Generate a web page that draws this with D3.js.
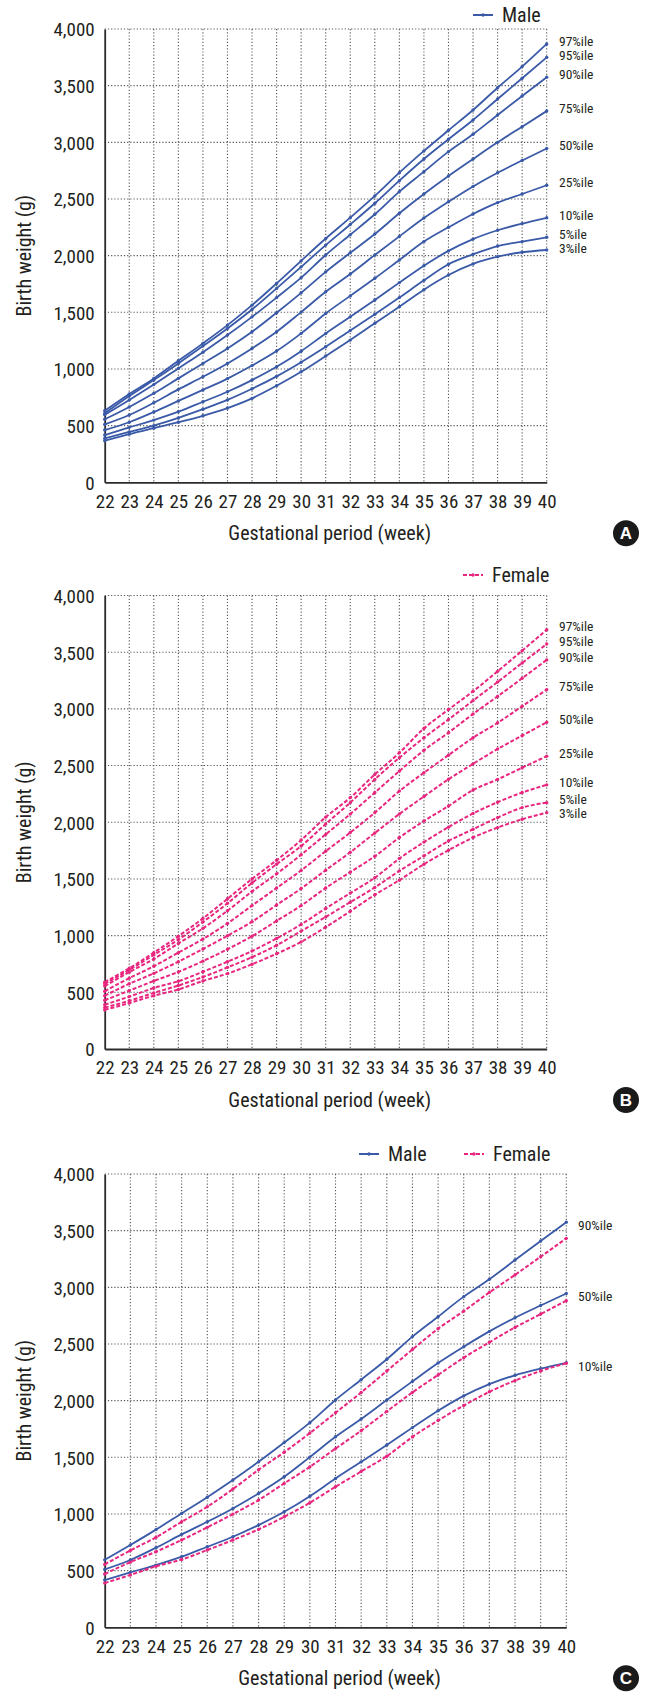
<!DOCTYPE html>
<html>
<head>
<meta charset="utf-8">
<script src="https://cdn.jsdelivr.net/npm/d3@7"></script>
<style>
  body { margin: 0; background: #fff; }
  svg text { font-family: "Liberation Sans Narrow", "Roboto Condensed", "DejaVu Sans Condensed", sans-serif; fill: #231f20; }
</style>
</head>
<body>
<div id="container"></div>
<script>
/* DATA */
const weeks = d3.range(22, 41);
const percentiles = ["97%ile", "95%ile", "90%ile", "75%ile", "50%ile", "25%ile", "10%ile", "5%ile", "3%ile"];
const yTicks = [0, 500, 1000, 1500, 2000, 2500, 3000, 3500, 4000];

// male birth weight (g), weeks 22..40
const male97 = [631, 779, 917, 1072, 1226, 1387, 1563, 1755, 1954, 2151, 2335, 2527, 2732, 2924, 3106, 3285, 3482, 3668, 3868];
const male95 = [608, 761, 902, 1049, 1202, 1358, 1525, 1711, 1901, 2093, 2275, 2462, 2662, 2853, 3027, 3197, 3382, 3565, 3750];
const male90 = [595, 726, 862, 1005, 1148, 1299, 1460, 1630, 1806, 2006, 2185, 2365, 2565, 2741, 2918, 3071, 3241, 3409, 3575];
const male75 = [556, 665, 785, 917, 1049, 1181, 1328, 1496, 1672, 1857, 2025, 2191, 2374, 2544, 2703, 2853, 3000, 3138, 3276];
const male50 = [511, 594, 702, 820, 931, 1049, 1181, 1328, 1502, 1681, 1838, 2005, 2170, 2332, 2476, 2611, 2732, 2840, 2946];
const male25 = [461, 530, 620, 718, 815, 915, 1030, 1158, 1314, 1490, 1645, 1800, 1962, 2124, 2250, 2368, 2468, 2544, 2621];
const male10 = [417, 485, 549, 623, 711, 799, 902, 1019, 1157, 1313, 1460, 1609, 1762, 1911, 2042, 2146, 2224, 2283, 2334];
const male5  = [388, 444, 500, 568, 645, 727, 825, 935, 1060, 1196, 1340, 1483, 1630, 1782, 1924, 2012, 2085, 2124, 2162];
const male3  = [367, 425, 478, 530, 587, 655, 741, 852, 975, 1114, 1255, 1403, 1550, 1700, 1829, 1927, 1991, 2030, 2050];

// female birth weight (g), weeks 22..40
const female97 = [590, 712, 850, 995, 1152, 1325, 1500, 1665, 1843, 2045, 2217, 2422, 2613, 2827, 2994, 3155, 3331, 3513, 3698];
const female95 = [575, 698, 830, 965, 1120, 1285, 1465, 1630, 1790, 1985, 2173, 2378, 2569, 2745, 2906, 3073, 3237, 3405, 3572];
const female90 = [555, 678, 794, 931, 1064, 1220, 1390, 1545, 1714, 1893, 2072, 2262, 2451, 2635, 2790, 2955, 3110, 3270, 3432];
const female75 = [510, 625, 730, 850, 970, 1108, 1265, 1420, 1575, 1745, 1909, 2085, 2275, 2437, 2592, 2745, 2877, 3023, 3170];
const female50 = [470, 575, 667, 770, 882, 999, 1123, 1270, 1416, 1577, 1735, 1905, 2073, 2227, 2379, 2515, 2646, 2764, 2882];
const female25 = [430, 515, 600, 680, 775, 880, 995, 1130, 1265, 1420, 1560, 1700, 1865, 2011, 2143, 2284, 2378, 2481, 2583];
const female10 = [390, 462, 538, 598, 682, 770, 864, 975, 1099, 1240, 1375, 1510, 1680, 1825, 1957, 2078, 2177, 2262, 2330];
const female5  = [365, 425, 495, 560, 635, 720, 810, 915, 1040, 1165, 1295, 1425, 1571, 1703, 1835, 1938, 2041, 2129, 2173];
const female3  = [345, 405, 470, 525, 600, 665, 748, 840, 945, 1075, 1215, 1360, 1489, 1630, 1753, 1865, 1953, 2026, 2085];

const maleSeries = [male97, male95, male90, male75, male50, male25, male10, male5, male3];
const femaleSeries = [female97, female95, female90, female75, female50, female25, female10, female5, female3];

/* STYLE */
const width = 646, height = 1692;
const BLUE = "#3a5aa8", PINK = "#e8267f";

const svg = d3.select("#container").append("svg")
  .attr("width", width)
  .attr("height", height);

function drawPanel(cfg) {
  const g = svg.append("g");
  const x = d3.scaleLinear().domain([22, 40]).range([cfg.left, cfg.right]);
  const y = d3.scaleLinear().domain([0, 4000]).range([cfg.bottom, cfg.top]);

  // dotted grid
  g.selectAll("line.vg").data(weeks.slice(1)).join("line")
    .attr("x1", d => x(d)).attr("x2", d => x(d))
    .attr("y1", cfg.top).attr("y2", cfg.bottom)
    .attr("stroke", "#555").attr("stroke-width", 1.1).attr("stroke-dasharray", "1.2,2");
  g.selectAll("line.hg").data(yTicks.slice(1)).join("line")
    .attr("x1", cfg.left).attr("x2", cfg.right)
    .attr("y1", d => y(d)).attr("y2", d => y(d))
    .attr("stroke", "#555").attr("stroke-width", 1.1).attr("stroke-dasharray", "1.2,2");

  // axes
  const yAxis = d3.axisLeft(y).tickValues(yTicks).tickFormat(d3.format(",")).tickSize(0).tickPadding(10);
  const xAxis = d3.axisBottom(x).tickValues(weeks).tickFormat(d3.format("d")).tickSize(0).tickPadding(12);
  const ya = g.append("g").attr("transform", `translate(${cfg.left},0)`).call(yAxis);
  const xa = g.append("g").attr("transform", `translate(0,${cfg.bottom})`).call(xAxis);
  [ya, xa].forEach(a => {
    a.select(".domain").attr("stroke", "#2b2b2b").attr("stroke-width", 1.8);
    a.selectAll("text").style("font-size", "19px").attr("fill", "#231f20");
  });
  ya.selectAll("text").attr("dy", "0.36em");

  // axis titles
  g.append("text")
    .attr("transform", `translate(24,${(cfg.top + cfg.bottom) / 2}) rotate(-90)`)
    .attr("text-anchor", "middle").attr("dy", "0.35em")
    .style("font-size", "20px")
    .text("Birth weight (g)");
  g.append("text")
    .attr("x", (cfg.left + cfg.right) / 2 + 4).attr("y", cfg.bottom + 51)
    .attr("text-anchor", "middle").attr("dy", "0.35em")
    .style("font-size", "20px")
    .text("Gestational period (week)");

  // lines
  const line = d3.line().x((d, i) => x(weeks[i])).y(d => y(d)).curve(d3.curveMonotoneX);
  cfg.groups.forEach(grp => {
    grp.series.forEach(s => {
      g.append("path").datum(s)
        .attr("d", line)
        .attr("fill", "none")
        .attr("stroke", grp.color)
        .attr("stroke-width", grp.dash ? 2 : 1.8)
        .attr("stroke-dasharray", grp.dash || null);
      g.selectAll(null).data(s).join("circle")
        .attr("cx", (d, i) => x(weeks[i])).attr("cy", d => y(d))
        .attr("r", 1.7).attr("fill", grp.color);
    });
  });

  // percentile labels at line ends
  let prev = -Infinity;
  cfg.labels.forEach((lab, i) => {
    let ly = y(cfg.labelSeries[i][18]) + cfg.labelShift;
    if (ly < prev + cfg.labelGap) ly = prev + cfg.labelGap;
    prev = ly;
    g.append("text")
      .attr("x", cfg.labelX).attr("y", ly).attr("dy", "0.35em")
      .style("font-size", "13.5px").attr("fill", "#333")
      .text(lab);
  });

  // legend
  cfg.legend.forEach(l => {
    g.append("line")
      .attr("x1", l.x).attr("x2", l.x + 20).attr("y1", l.y).attr("y2", l.y)
      .attr("stroke", l.color).attr("stroke-width", 2)
      .attr("stroke-dasharray", l.dash || null);
    g.append("circle").attr("cx", l.x + 10).attr("cy", l.y).attr("r", 1.7).attr("fill", l.color);
    g.append("text")
      .attr("x", l.x + 29).attr("y", l.y).attr("dy", "0.36em")
      .style("font-size", "20px")
      .text(l.text);
  });

  // panel badge
  g.append("circle").attr("cx", 626).attr("cy", cfg.bottom + 51).attr("r", 13).attr("fill", "#1a1a1a");
  g.append("text")
    .attr("x", 626).attr("y", cfg.bottom + 51).attr("dy", "0.36em")
    .attr("text-anchor", "middle")
    .style("font-family", "Liberation Sans, Arial, sans-serif")
    .style("font-size", "17px").style("font-weight", "bold")
    .style("fill", "#fff")
    .text(cfg.badge);
}

drawPanel({
  top: 29, bottom: 482.3, left: 104.7, right: 546.7,
  groups: [{ series: maleSeries, color: BLUE }],
  labels: percentiles, labelSeries: maleSeries, labelX: 559, labelShift: -3, labelGap: 14,
  legend: [{ x: 473, y: 15, color: BLUE, text: "Male" }],
  badge: "A"
});

drawPanel({
  top: 595.5, bottom: 1049, left: 104.7, right: 546.7,
  groups: [{ series: femaleSeries, color: PINK, dash: "4,2" }],
  labels: percentiles, labelSeries: femaleSeries, labelX: 559, labelShift: -3, labelGap: 13.5,
  legend: [{ x: 463, y: 575, color: PINK, dash: "4,2", text: "Female" }],
  badge: "B"
});

drawPanel({
  top: 1174, bottom: 1627.3, left: 104.7, right: 566.3,
  groups: [
    { series: [male90, male50, male10], color: BLUE },
    { series: [female90, female50, female10], color: PINK, dash: "4,2" }
  ],
  labels: ["90%ile", "50%ile", "10%ile"], labelSeries: [male90, male50, male10], labelX: 578, labelShift: 3, labelGap: 12,
  legend: [
    { x: 359, y: 1154, color: BLUE, text: "Male" },
    { x: 464, y: 1154, color: PINK, dash: "4,2", text: "Female" }
  ],
  badge: "C"
});
</script>
</body>
</html>
